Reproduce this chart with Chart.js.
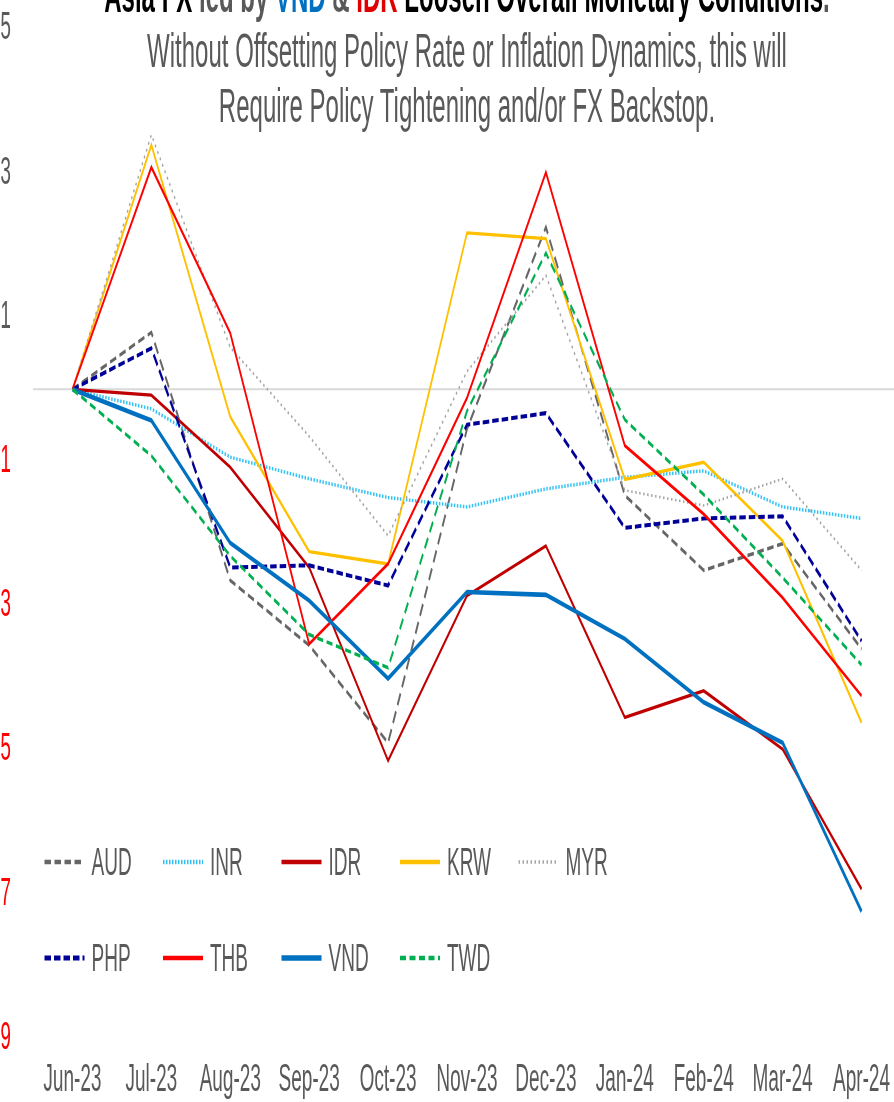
<!DOCTYPE html>
<html>
<head>
<meta charset="utf-8">
<title>Asia FX and monetary conditions</title>
<script src="https://cdn.jsdelivr.net/npm/chart.js@4.4.0/dist/chart.umd.min.js"></script>
<style>
  html, body { margin: 0; padding: 0; background: #ffffff; overflow: hidden; }
  #frame { position: relative; width: 894px; height: 1102px; overflow: hidden; background: #fff; }
  /* the whole figure is drawn in a wide coordinate space and squeezed horizontally */
  #stage {
    position: absolute; left: -17.5px; top: 0;
    width: 1860px; height: 1140px;
    transform: scaleX(0.5); transform-origin: 0 0;
    font-family: "Liberation Sans", Arial, sans-serif;
  }
  #chart { position: absolute; left: 0; top: -38px; }
  #title {
    position: absolute; left: 100px; width: 1736px; top: -32px;
    text-align: center; font-size: 48px; line-height: 55px; color: #595959;
    white-space: nowrap;
  }
  #title .bold { font-weight: bold; }
  #title .k { color: #000000; }
  #legend {
    position: absolute; left: 123px; top: 814px;
    display: grid; grid-template-columns: repeat(5, 237px); grid-auto-rows: 96px;
  }
  .item { display: flex; align-items: center; font-size: 38px; color: #595959; }
  .item canvas { display: block; margin-right: 14px; }
</style>
</head>
<body>
<div id="frame">
  <div id="stage">
    <canvas id="chart" width="1860" height="1165"></canvas>
    <div id="title">
      <div class="bold"><span class="k">Asia FX</span> led by <span style="color:#0070c0">VND</span> &amp; <span style="color:#e00000">IDR</span> <span class="k">Loosen Overall Monetary Conditions</span>.</div>
      <div>Without Offsetting Policy Rate or Inflation Dynamics, this will</div>
      <div>Require Policy Tightening and/or FX Backstop.</div>
    </div>
    <div id="legend"></div>
  </div>
</div>
<script>
// Months on the x axis
const months = ['Jun-23', 'Jul-23', 'Aug-23', 'Sep-23', 'Oct-23', 'Nov-23', 'Dec-23', 'Jan-24', 'Feb-24', 'Mar-24', 'Apr-24'];

// Change in monetary conditions per currency (Jun-23 = 0)
const AUD = [0, 0.79, -2.65, -3.55, -4.90, -0.55, 2.25, -1.47, -2.51, -2.14, -3.60];
const INR = [0, -0.27, -0.94, -1.24, -1.50, -1.63, -1.38, -1.22, -1.13, -1.63, -1.79];
const IDR = [0, -0.08, -1.08, -2.47, -5.15, -2.86, -2.17, -4.55, -4.18, -4.99, -6.93];
const KRW = [0, 3.39, -0.38, -2.25, -2.42, 2.17, 2.09, -1.25, -1.01, -2.10, -4.62];
const MYR = [0, 3.53, 0.58, -0.65, -2.03, 0.25, 1.58, -1.40, -1.61, -1.24, -2.51];
const PHP = [0, 0.57, -2.47, -2.44, -2.72, -0.49, -0.33, -1.92, -1.79, -1.76, -3.49];
const THB = [0, 3.08, 0.78, -3.53, -2.42, -0.12, 3.01, -0.78, -1.73, -2.89, -4.25];
const VND = [0, -0.43, -2.13, -2.93, -4.01, -2.81, -2.85, -3.46, -4.34, -4.90, -7.24];
const TWD = [0, -0.92, -2.31, -3.40, -3.86, -0.30, 1.89, -0.42, -1.46, -2.61, -3.82];

// Y axis range and step
const yMin = -9;
const yMax = 5;
const yStep = 2;

const series = [
  { label: 'AUD', data: AUD, color: '#666666', width: 3.5, dash: [13, 7] },
  { label: 'INR', data: INR, color: '#33c3f5', width: 3.5, dash: [3, 3] },
  { label: 'IDR', data: IDR, color: '#c00000', width: 3.4, dash: [] },
  { label: 'KRW', data: KRW, color: '#ffc000', width: 3.4, dash: [] },
  { label: 'MYR', data: MYR, color: '#a6a6a6', width: 2.6, dash: [3, 5] },
  { label: 'PHP', data: PHP, color: '#000099', width: 4, dash: [13, 6] },
  { label: 'THB', data: THB, color: '#ff0000', width: 3.4, dash: [] },
  { label: 'VND', data: VND, color: '#0070c0', width: 4.6, dash: [] },
  { label: 'TWD', data: TWD, color: '#00b050', width: 3.5, dash: [12, 7] }
];

const tickFont = { family: '"Liberation Sans", Arial, sans-serif', size: 38 };

// Light grey horizontal line at zero across the plot
const zeroLine = {
  id: 'zeroLine',
  beforeDatasetsDraw(chart) {
    const { ctx, chartArea } = chart;
    const y = chart.scales.y.getPixelForValue(0);
    ctx.save();
    ctx.strokeStyle = '#d9d9d9';
    ctx.lineWidth = 2;
    ctx.beginPath();
    ctx.moveTo(chartArea.left, y);
    ctx.lineTo(chartArea.right, y);
    ctx.stroke();
    ctx.restore();
  }
};

const chart = new Chart(document.getElementById('chart'), {
  type: 'line',
  data: {
    labels: months,
    datasets: series.map((s, i) => ({
      label: s.label,
      data: s.data,
      borderColor: s.color,
      backgroundColor: s.color,
      borderWidth: s.width,
      borderDash: s.dash,
      borderCapStyle: 'butt',
      borderJoinStyle: 'miter',
      pointRadius: 0,
      tension: 0,
      fill: false,
      order: series.length - i
    }))
  },
  options: {
    responsive: false,
    animation: false,
    devicePixelRatio: 1,
    layout: { padding: { top: 3, bottom: 5, left: 0, right: 24 } },
    plugins: {
      legend: { display: false },
      title: { display: false },
      tooltip: { enabled: false }
    },
    scales: {
      x: {
        offset: true,
        grid: { display: false, drawTicks: false },
        border: { display: false },
        ticks: {
          color: '#595959',
          font: tickFont,
          padding: 19,
          maxRotation: 0,
          autoSkip: false
        }
      },
      y: {
        min: yMin,
        max: yMax,
        grid: { display: false, drawTicks: false },
        border: { display: false },
        afterFit(scale) { scale.width = 100; },
        ticks: {
          stepSize: yStep,
          padding: 44,
          font: tickFont,
          color: (c) => (c.tick && c.tick.value < 0 ? '#ff0000' : '#595959'),
          callback: (v) => String(v)
        }
      }
    }
  },
  plugins: [zeroLine]
});

// Legend built from the chart's own datasets
const legend = document.getElementById('legend');
chart.data.datasets.forEach((ds) => {
  const item = document.createElement('div');
  item.className = 'item';
  const c = document.createElement('canvas');
  c.width = 80; c.height = 20;
  const g = c.getContext('2d');
  g.strokeStyle = ds.borderColor;
  g.lineWidth = ds.borderWidth + 1;
  g.setLineDash(ds.borderDash);
  g.beginPath();
  g.moveTo(0, 10);
  g.lineTo(80, 10);
  g.stroke();
  const t = document.createElement('span');
  t.textContent = ds.label;
  item.appendChild(c);
  item.appendChild(t);
  legend.appendChild(item);
});
</script>
</body>
</html>
